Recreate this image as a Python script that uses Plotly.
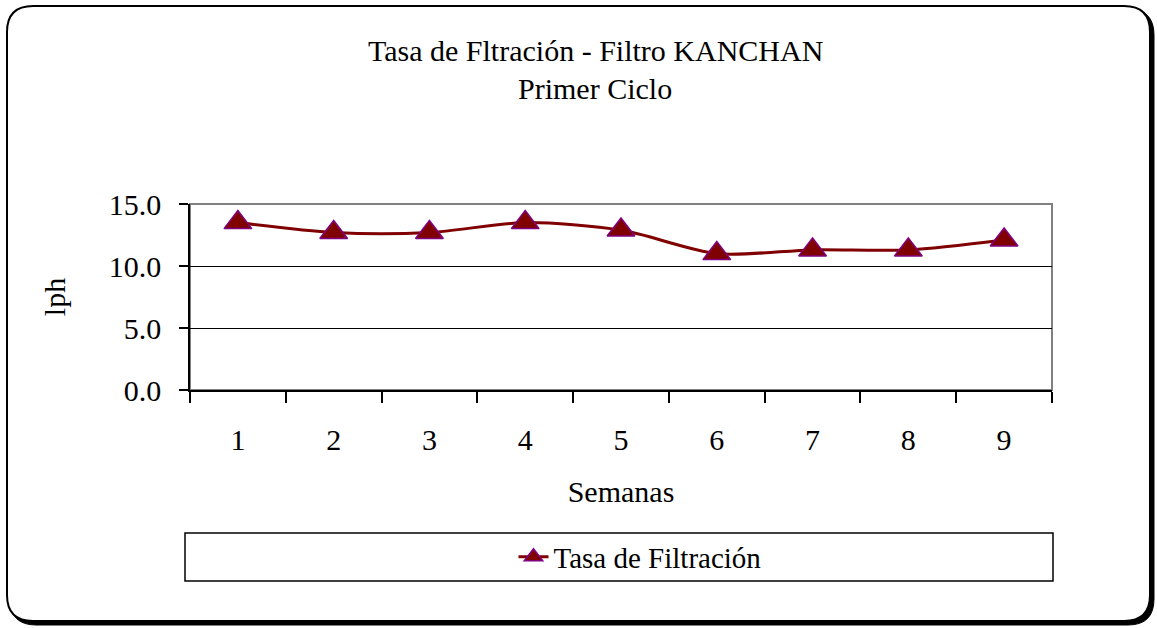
import plotly.graph_objects as go

# ---- data ----
weeks = ["1", "2", "3", "4", "5", "6", "7", "8", "9"]
tasa = [13.5, 12.7, 12.7, 13.5, 12.9, 11.0, 11.3, 11.3, 12.1]
y_tickvals = [0, 5, 10, 15]
y_ticktext = ["0.0", "5.0", "10.0", "15.0"]
title_line1 = "Tasa de Fltración - Filtro KANCHAN"
title_line2 = "Primer Ciclo"
x_title = "Semanas"
y_title = "lph"
series_name = "Tasa de Filtración"

# ---- layout geometry (pixels) ----
W, H = 1157, 628
L, R, T, B = 190, 1052, 204, 390   # plot area
FONT = "Liberation Serif, Times New Roman, serif"
FS = 30


def px(x):
    return (x - L) / (R - L)


def py(y):
    return (B - y) / (B - T)


def rrect(x0, y0, x1, y1, r):
    rx = r / (R - L)
    ry = r / (B - T)
    X0, X1 = px(x0), px(x1)
    Y0, Y1 = py(y0), py(y1)
    return (f"M{X0+rx},{Y0} L{X1-rx},{Y0} Q{X1},{Y0} {X1},{Y0-ry} "
            f"L{X1},{Y1+ry} Q{X1},{Y1} {X1-rx},{Y1} L{X0+rx},{Y1} "
            f"Q{X0},{Y1} {X0},{Y1+ry} L{X0},{Y0-ry} Q{X0},{Y0} {X0+rx},{Y0} Z")


fig = go.Figure()
fig.add_trace(go.Scatter(
    x=weeks, y=tasa, name=series_name, mode="lines+markers",
    line=dict(color="#800000", width=3, shape="spline", smoothing=0.8),
    marker=dict(symbol="triangle-up", size=24, color="#800000",
                line=dict(color="#800080", width=1.5)),
))

shapes = [
    # shadow of outer frame
    dict(type="path", xref="paper", yref="paper", layer="below",
         path=rrect(10, 9, 1154, 625, 26), fillcolor="black",
         line=dict(color="black", width=1)),
    # outer frame
    dict(type="path", xref="paper", yref="paper", layer="below",
         path=rrect(7, 6, 1150, 621, 26), fillcolor="white",
         line=dict(color="black", width=2)),
    # plot area border
    dict(type="rect", xref="paper", yref="paper", layer="below",
         x0=0, x1=1, y0=0, y1=1, fillcolor="white",
         line=dict(color="#808080", width=2)),
    # legend box
    dict(type="rect", xref="paper", yref="paper", layer="below",
         x0=px(185), x1=px(1053), y0=py(581), y1=py(533), fillcolor="white",
         line=dict(color="black", width=1.5)),
]

annotations = [
    dict(text=title_line1, xref="paper", yref="paper", x=px(595), y=py(50),
         xanchor="center", yanchor="middle", showarrow=False,
         font=dict(family=FONT, size=FS, color="black")),
    dict(text=title_line2, xref="paper", yref="paper", x=px(595), y=py(88),
         xanchor="center", yanchor="middle", showarrow=False,
         font=dict(family=FONT, size=FS, color="black")),
]

fig.update_layout(
    width=W, height=H,
    margin=dict(l=L, r=W - R, t=T, b=H - B, pad=0),
    paper_bgcolor="white", plot_bgcolor="rgba(0,0,0,0)",
    font=dict(family=FONT, size=FS, color="black"),
    shapes=shapes, annotations=annotations,
    showlegend=True,
    legend=dict(orientation="h", x=px(640), xanchor="center",
                y=py(557), yanchor="middle", bgcolor="rgba(0,0,0,0)",
                font=dict(family=FONT, size=29, color="black")),
    xaxis=dict(type="category", range=[-0.5, 8.5], tickson="boundaries",
               ticks="outside", ticklen=11, tickwidth=1.5, tickcolor="black",
               showline=True, linecolor="black", linewidth=1.5,
               showgrid=False, zeroline=False, ticklabelstandoff=22,
               title=dict(text=x_title, standoff=26,
                          font=dict(family=FONT, size=FS))),
    yaxis=dict(range=[0, 15], tickvals=y_tickvals, ticktext=y_ticktext,
               ticks="outside", ticklen=9, tickwidth=1.5, tickcolor="black",
               showline=True, linecolor="black", linewidth=1.5,
               showgrid=True, gridcolor="black", gridwidth=1.2,
               zeroline=False, ticklabelstandoff=12,
               title=dict(text=y_title, standoff=34,
                          font=dict(family=FONT, size=FS))),
)

fig.write_html("out.html", config={"displayModeBar": False},
               post_script="document.body.style.margin='0';")
